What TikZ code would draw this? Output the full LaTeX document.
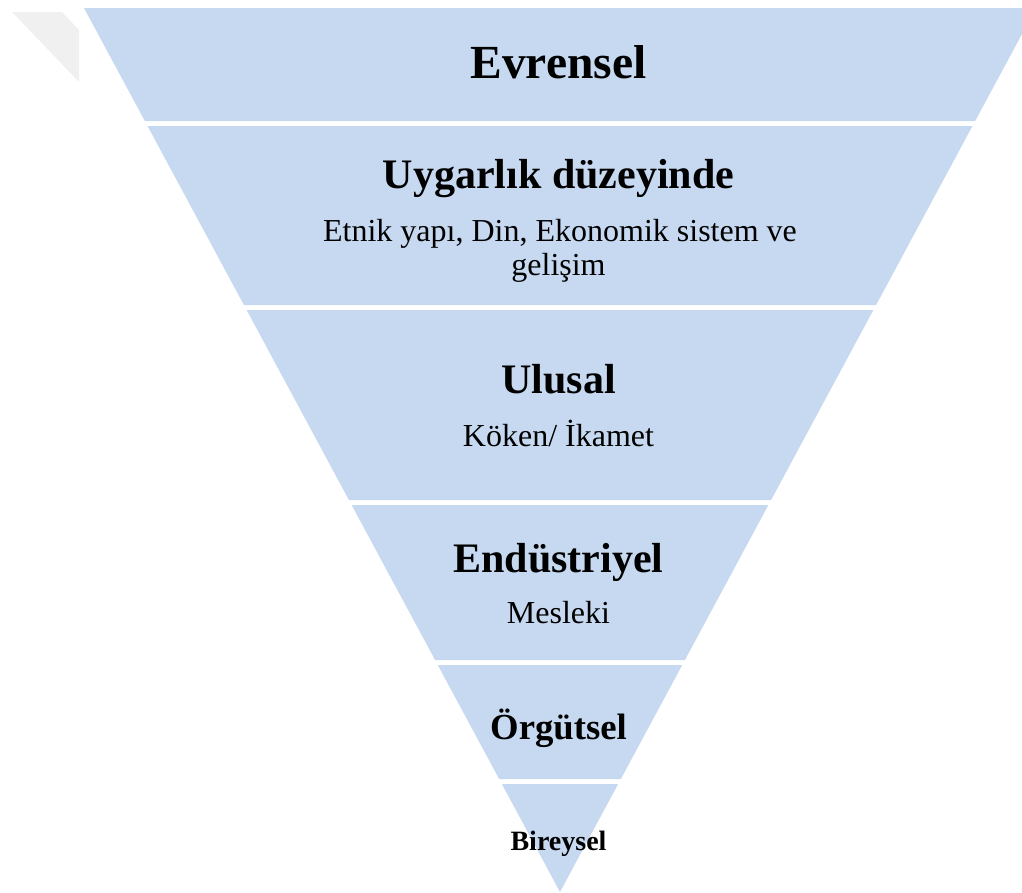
\documentclass[tikz,border=0pt]{standalone}
\usepackage{fontspec}
\setmainfont{Liberation Serif}
\definecolor{bandblue}{HTML}{C6D9F0}
\definecolor{ghostgray}{HTML}{F0F0F0}
\tikzset{
  band/.style={fill=bandblue, draw=none},
  headA/.style={anchor=base, inner sep=0pt, font=\fontsize{47.5}{57}\selectfont\bfseries},
  headB/.style={anchor=base, inner sep=0pt, font=\fontsize{42}{50}\selectfont\bfseries},
  headC/.style={anchor=base, inner sep=0pt, font=\fontsize{36.7}{44}\selectfont\bfseries},
  headD/.style={anchor=base, inner sep=0pt, font=\fontsize{28}{34}\selectfont\bfseries},
  sub/.style={anchor=base, inner sep=0pt, align=center, font=\fontsize{32}{34}\selectfont}
}
\begin{document}
\begin{tikzpicture}[x=1pt, y=-1pt]
  \useasboundingbox (0,0) rectangle (1022,892);
  \clip (0,0) rectangle (1022,892);

  % faint grey shape in the upper left corner
  \fill[ghostgray] (12,12) -- (62,12) -- (79,30) -- (79,82) -- cycle;

  % inverted pyramid, six bands separated by thin white gaps
  \fill[band] (84,8)      -- (1036,8)    -- (975.15,121) -- (144.85,121) -- cycle;
  \fill[band] (147.54,126) -- (972.46,126) -- (876.08,305) -- (243.92,305) -- cycle;
  \fill[band] (246.62,310) -- (873.38,310) -- (771.08,500) -- (348.92,500) -- cycle;
  \fill[band] (351.62,505) -- (768.38,505) -- (684.92,660) -- (435.08,660) -- cycle;
  \fill[band] (437.77,665) -- (682.23,665) -- (620.85,779) -- (499.15,779) -- cycle;
  \fill[band] (501.85,784) -- (618.15,784) -- (560,892) -- cycle;

  % labels
  \node[headA] (evrensel) at (558.5,78) {Evrensel};
  \node[headB] (uygarlik) at (558.5,188) {Uygarlık düzeyinde};
  \node[sub]   (etnik)    at (560,241) {Etnik yapı, Din, Ekonomik sistem ve};
  \node[sub]   (gelisim)  at (558.5,275) {gelişim};
  \node[headB] (ulusal)   at (558.5,393) {Ulusal};
  \node[sub]   (koken)    at (558.5,446) {Köken/ İkamet};
  \node[headB] (endustri) at (558.5,572) {Endüstriyel};
  \node[sub]   (mesleki)  at (558.5,623) {Mesleki};
  \node[headC] (orgutsel) at (558.5,739) {Örgütsel};
  \node[headD] (bireysel) at (558.5,850) {Bireysel};
\end{tikzpicture}
\end{document}
